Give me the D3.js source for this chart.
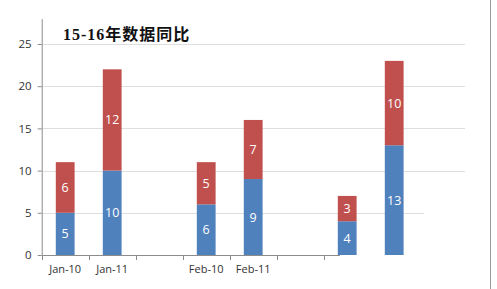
<!DOCTYPE html>
<html>
<head>
<meta charset="utf-8">
<script src="https://cdn.jsdelivr.net/npm/d3@7"></script>
<style>
  body { margin: 0; background: #fff; }
  svg { display: block; }
</style>
</head>
<body>
<svg id="chart"></svg>
<script>
const categories = ["Jan-10", "Jan-11", "", "Feb-10", "Feb-11", "", "", ""];
const series15 = [5, 10, null, 6, 9, null, 4, 13];
const series16 = [6, 12, null, 5, 7, null, 3, 10];
const yTicks = [0, 5, 10, 15, 20, 25];
const title = "15-16年数据同比";

const width = 497;
const height = 289;
const left = 41.7;
const bottom = 255;
const step = 47;

const svg = d3.select("#chart")
    .attr("width", width)
    .attr("height", height);

const x = d3.scaleBand()
    .domain(d3.range(categories.length))
    .range([left, left + step * categories.length])
    .paddingInner(0.6)
    .paddingOuter(0.3);

const y = d3.scaleLinear()
    .domain([0, 28])
    .range([bottom, bottom - 28 * 8.44]);

// gridlines
svg.append("g")
    .selectAll("line")
    .data(yTicks.slice(1))
    .join("line")
    .attr("x1", left)
    .attr("x2", d => d === 5 ? 424 : 465)
    .attr("y1", d => Math.round(y(d)) + 0.5)
    .attr("y2", d => Math.round(y(d)) + 0.5)
    .attr("stroke", "#dedede")
    .attr("stroke-width", 1);

// right border
svg.append("line")
    .attr("x1", 490.5).attr("x2", 490.5)
    .attr("y1", 0).attr("y2", height)
    .attr("stroke", "#9a9a9a");

// y axis
const yAxis = svg.append("g")
    .attr("transform", `translate(${left},0)`)
    .call(d3.axisLeft(y).tickValues(yTicks).tickSize(4).tickSizeOuter(0));
yAxis.select(".domain").attr("stroke", "#8c8c8c");
yAxis.selectAll(".tick line").attr("stroke", "#8c8c8c");
yAxis.selectAll(".tick text")
    .attr("x", -10)
    .attr("fill", "#333")
    .style("font-family", "'Open Sans', 'DejaVu Sans', sans-serif")
    .style("font-size", "11.5px");

// bars
const rows = categories.map((c, i) => ({ i, a: series15[i], b: series16[i] }))
    .filter(d => d.a != null);

const stacked = [];
rows.forEach(d => {
    stacked.push({ i: d.i, y0: 0, y1: d.a, v: d.a, color: "#4f81bd" });
    stacked.push({ i: d.i, y0: d.a, y1: d.a + d.b, v: d.b, color: "#c0504d" });
});

svg.append("g")
    .selectAll("rect")
    .data(stacked)
    .join("rect")
    .attr("x", d => x(d.i))
    .attr("width", x.bandwidth())
    .attr("y", d => y(d.y1))
    .attr("height", d => y(d.y0) - y(d.y1))
    .attr("fill", d => d.color);

svg.append("g")
    .selectAll("text")
    .data(stacked)
    .join("text")
    .attr("x", d => x(d.i) + x.bandwidth() / 2)
    .attr("y", d => (y(d.y0) + y(d.y1)) / 2)
    .attr("dy", "0.36em")
    .attr("text-anchor", "middle")
    .attr("fill", "#fff")
    .style("font-family", "'Open Sans', 'DejaVu Sans', sans-serif")
    .style("font-size", "12.5px")
    .text(d => d.v);

// x axis (clipped like the reference)
svg.append("clipPath").attr("id", "xclip")
    .append("rect").attr("x", 0).attr("y", 0).attr("width", 340).attr("height", height);

const xg = svg.append("g").attr("clip-path", "url(#xclip)");
xg.append("line")
    .attr("x1", left).attr("x2", left + step * categories.length)
    .attr("y1", bottom + 0.5).attr("y2", bottom + 0.5)
    .attr("stroke", "#8c8c8c");
xg.selectAll("line.tick")
    .data(d3.range(categories.length + 1))
    .join("line")
    .attr("class", "tick")
    .attr("x1", d => Math.round(left + d * step) + 0.5)
    .attr("x2", d => Math.round(left + d * step) + 0.5)
    .attr("y1", bottom)
    .attr("y2", bottom + 5)
    .attr("stroke", "#8c8c8c");

svg.append("g")
    .attr("transform", `translate(0,${bottom})`)
    .call(d3.axisBottom(x).tickFormat(i => categories[i]).tickSize(0))
    .call(g => g.select(".domain").remove())
    .selectAll("text")
    .attr("y", 10)
    .attr("fill", "#333")
    .style("font-family", "'Open Sans', 'DejaVu Sans', sans-serif")
    .style("font-size", "11px");

// title
svg.append("text")
    .attr("x", 63)
    .attr("y", 40)
    .attr("fill", "#111")
    .style("font-family", "'Liberation Serif', 'Noto Sans CJK SC', serif")
    .style("font-weight", "bold")
    .style("font-size", "16px")
    .style("letter-spacing", "1px")
    .text(title);
</script>
</body>
</html>
